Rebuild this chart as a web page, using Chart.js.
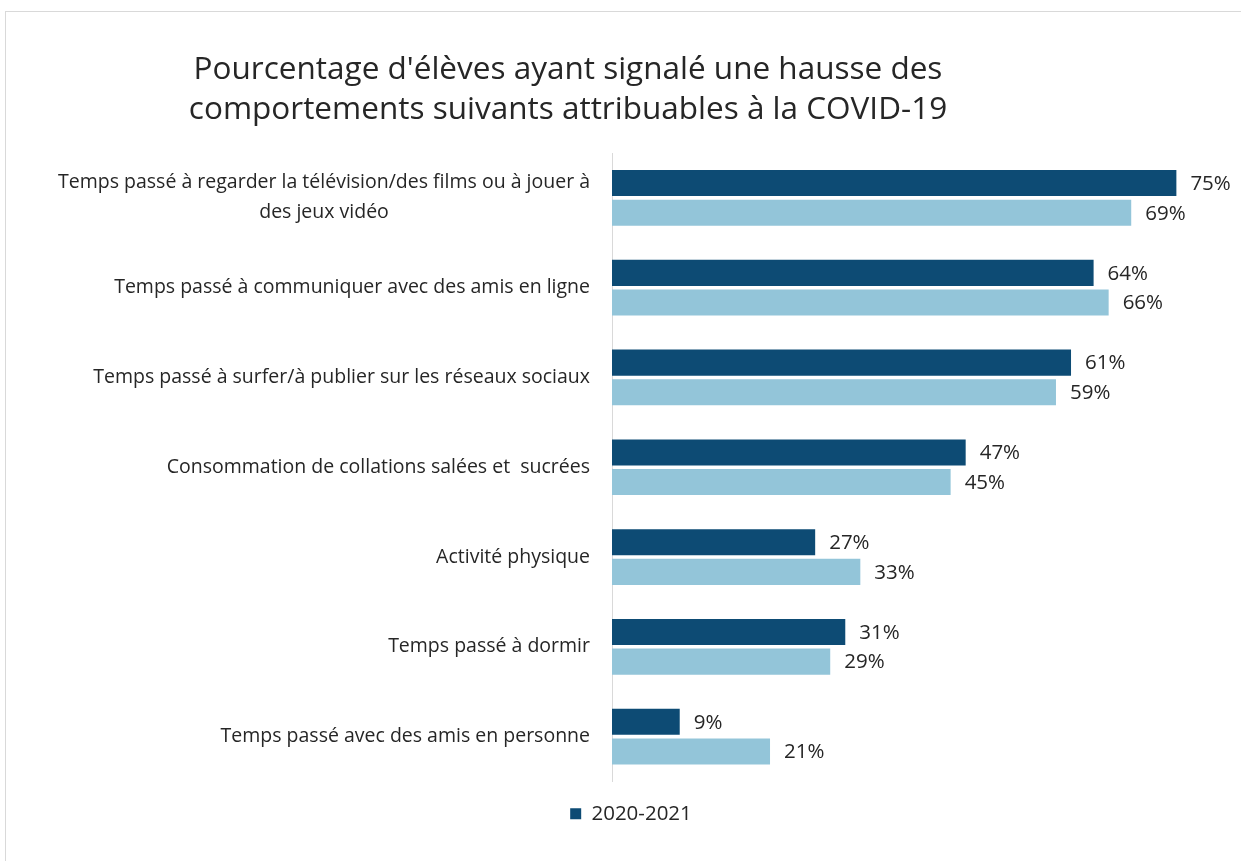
<!DOCTYPE html>
<html><head><meta charset="utf-8">
<script src="https://cdn.jsdelivr.net/npm/chart.js@4.4.1/dist/chart.umd.min.js"></script>
<style>
html,body{margin:0;padding:0;background:#fff;}
#wrap{position:absolute;left:0;top:0;width:1241px;height:861px;}
#frame{position:absolute;left:5px;top:11px;width:1240px;height:860px;border:1px solid #d9d9d9;box-sizing:border-box;}
canvas{position:absolute;left:0;top:0;}
</style></head>
<body>
<div id="wrap"><div id="frame"></div><canvas id="c" width="1241" height="861"></canvas></div>
<script>
const titleLines = ["Pourcentage d'élèves ayant signalé une hausse des", "comportements suivants attribuables à la COVID-19"];
const categories = [
  ["Temps passé à regarder la télévision/des films ou à jouer à", "des jeux vidéo"],
  ["Temps passé à communiquer avec des amis en ligne"],
  ["Temps passé à surfer/à publier sur les réseaux sociaux"],
  ["Consommation de collations salées et  sucrées"],
  ["Activité physique"],
  ["Temps passé à dormir"],
  ["Temps passé avec des amis en personne"]
];
const seriesNames = ["2020-2021", "2018-2019"];
const series2021 = [75, 64, 61, 47, 27, 31, 9];
const seriesOther = [69, 66, 59, 45, 33, 29, 21];

const FONT = "'Open Sans', Lato, sans-serif";
const TXT = "#262626";

const titlePlugin = {
  id: 'customTitle',
  afterDraw(chart) {
    const ctx = chart.ctx;
    ctx.save();
    ctx.fillStyle = TXT;
    ctx.font = "31.5px " + FONT;
    ctx.textAlign = 'center';
    ctx.textBaseline = 'middle';
    ctx.fillText(titleLines[0], 568, 70);
    ctx.fillText(titleLines[1], 568, 110);
    ctx.restore();
  }
};

const yLabelPlugin = {
  id: 'yLabels',
  afterDraw(chart) {
    const ctx = chart.ctx;
    const ys = chart.scales.y;
    ctx.save();
    ctx.fillStyle = TXT;
    ctx.font = "19.5px " + FONT;
    ctx.textBaseline = 'middle';
    categories.forEach((lines, i) => {
      const yc = ys.getPixelForValue(i);
      const lh = 30;
      const y0 = yc - (lines.length - 1) * lh / 2;
      if (lines.length === 1) {
        ctx.textAlign = 'right';
        ctx.fillText(lines[0], 590, yc);
      } else {
        const w0 = ctx.measureText(lines[0]).width;
        const cx = 590 - w0 / 2;
        ctx.textAlign = 'center';
        lines.forEach((l, k) => ctx.fillText(l, cx, y0 + k * lh));
      }
    });
    ctx.restore();
  }
};

const valueLabelPlugin = {
  id: 'valueLabels',
  afterDatasetsDraw(chart) {
    const ctx = chart.ctx;
    ctx.save();
    ctx.fillStyle = TXT;
    ctx.font = "20.5px " + FONT;
    ctx.textAlign = 'left';
    ctx.textBaseline = 'middle';
    chart.data.datasets.forEach((ds, di) => {
      chart.getDatasetMeta(di).data.forEach((bar, i) => {
        ctx.fillText(ds.data[i] + '%', bar.x + 14, bar.y + 1);
      });
    });
    ctx.restore();
  }
};

const legendShift = {
  id: 'legendShift',
  afterLayout(chart) {
    const lg = chart.legend;
    if (lg) { lg.left += 24; lg.right += 24; }
  }
};

new Chart(document.getElementById('c'), {
  type: 'bar',
  data: {
    labels: categories,
    datasets: [
      { label: seriesNames[0], data: series2021, backgroundColor: '#0d4b74', categoryPercentage: 0.66, barPercentage: 0.88 },
      { label: seriesNames[1], data: seriesOther, backgroundColor: '#93c5d9', categoryPercentage: 0.66, barPercentage: 0.88 }
    ]
  },
  options: {
    indexAxis: 'y',
    responsive: false,
    animation: false,
    devicePixelRatio: 1,
    layout: { padding: { left: 0, right: 27, top: 153, bottom: 27 } },
    scales: {
      x: {
        min: 0, max: 80,
        display: true,
        grid: { display: false, drawTicks: false },
        border: { display: false },
        ticks: { display: false },
        afterFit(s) { s.height = 12; }
      },
      y: {
        grid: { display: false, drawTicks: false },
        border: { display: true, color: '#d9d9d9', width: 1 },
        ticks: { display: false },
        afterFit(s) { s.width = 612; }
      }
    },
    plugins: {
      title: { display: false },
      tooltip: { enabled: false },
      legend: {
        display: true,
        position: 'bottom',
        labels: {
          filter: (item) => item.datasetIndex === 0,
          boxWidth: 11, boxHeight: 11,
          color: TXT,
          font: { size: 20.5, family: FONT },
          padding: 10
        }
      }
    }
  },
  plugins: [titlePlugin, yLabelPlugin, valueLabelPlugin, legendShift]
});
</script>
</body></html>
